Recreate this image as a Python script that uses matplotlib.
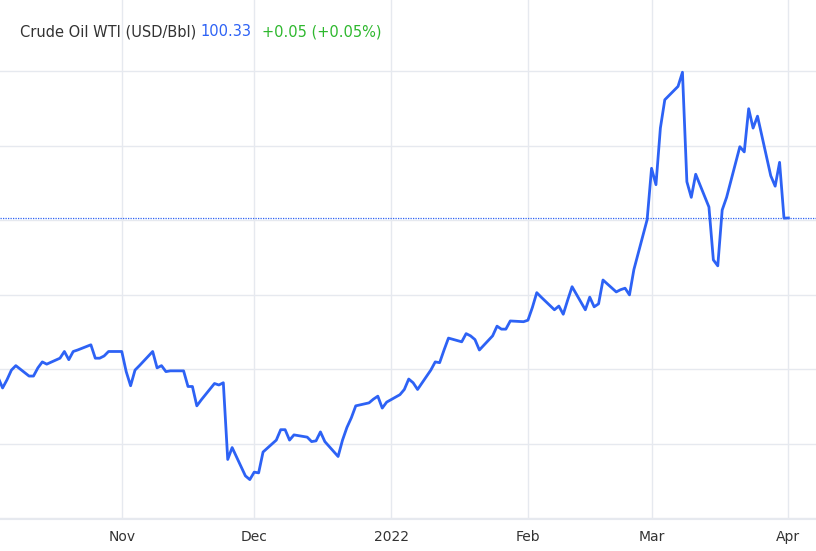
import matplotlib
matplotlib.use("Agg")
import matplotlib.pyplot as plt
import matplotlib.dates as mdates
import pandas as pd

# WTI closes, one per trading day
prices = [
    77.9, 78.9, 77.5, 78.6, 79.9, 80.5, 79.1, 79.1, 80.2, 81.0, 80.7, 81.5, 82.4, 81.3, 82.4,
    82.6, 83.3, 81.5, 81.5, 81.8, 82.4, 82.4, 79.7, 77.8, 79.9, 80.5, 82.4, 80.2, 80.5, 79.7,
    79.8, 79.8, 77.7, 77.7, 75.1, 75.9, 78.1, 77.9, 78.2, 67.9, 69.5, 65.7, 65.2, 66.2, 66.1,
    68.9, 70.5, 71.9, 71.9, 70.5, 71.2, 70.9, 70.3, 70.4, 71.6, 70.3, 68.3, 70.5, 72.2, 73.5,
    75.1, 75.5, 76.0, 76.4, 74.8, 75.6, 76.6, 77.3, 78.7, 78.2, 77.3, 79.9, 81.0, 80.9, 82.6,
    84.2, 83.7, 84.8, 84.5, 84.0, 82.6, 84.5, 85.8, 85.4, 85.4, 86.5, 86.4, 86.6, 88.3, 90.3,
    89.7, 88.0, 88.5, 87.4, 89.3, 91.1, 88.0, 89.7, 88.4, 88.8, 92.0, 90.4, 90.7, 90.9, 90.0,
    93.4, 100.1, 107.0, 104.8, 112.4, 116.2, 118.0, 119.9, 105.2, 103.1, 106.2, 101.8, 94.7,
    93.9, 101.4, 103.1, 109.9, 109.2, 115.0, 112.4, 114.0, 106.0, 104.6, 107.8, 100.3, 100.33,
]
dates = pd.bdate_range(end="2022-04-01", periods=len(prices))
last = prices[-1]
change = "+0.05"
change_pct = "(+0.05%)"

fig = plt.figure(figsize=(8.16, 5.51), dpi=100)
ax = fig.add_axes([0, 0.058, 1, 0.942])

ax.plot(dates, prices, color="#2d62f5", linewidth=2)
ax.axhline(last, color="#2d62f5", linestyle=(0, (1, 1)), linewidth=0.9)

ax.set_xlim(pd.Timestamp("2021-10-04 10:00"), pd.Timestamp("2022-04-07 06:00"))
ax.set_ylim(59.9, 129.6)
ax.set_yticks([60, 70, 80, 90, 100, 110, 120])
ax.set_yticklabels([])
ax.tick_params(axis="y", length=0)
ticks = pd.to_datetime(["2021-11-01", "2021-12-01", "2022-01-01", "2022-02-01",
                        "2022-03-01", "2022-04-01"])
ax.set_xticks(ticks)
ax.set_xticklabels(["Nov", "Dec", "2022", "Feb", "Mar", "Apr"])
ax.tick_params(axis="x", length=0, labelsize=10, colors="#333333", pad=8)
ax.grid(color="#e6e9ef", linewidth=1)
ax.set_axisbelow(True)
for s in ["top", "right", "left"]:
    ax.spines[s].set_visible(False)
ax.spines["bottom"].set_color("#e6e9ef")

t = ax.text(20, 519, "Crude Oil WTI (USD/Bbl) ", transform=None, fontsize=10.5,
            color="#333333", va="center")
fig.canvas.draw()
bb = t.get_window_extent()
t2 = ax.text(bb.x1, 519, f"{last:.2f}", transform=None, fontsize=10.5,
             color="#2d62f5", va="center")
bb2 = t2.get_window_extent()
ax.text(bb2.x1 + 10, 519, f"{change} {change_pct}", transform=None, fontsize=10.5,
        color="#2eb82e", va="center")

fig.savefig("out.png", dpi=100)
